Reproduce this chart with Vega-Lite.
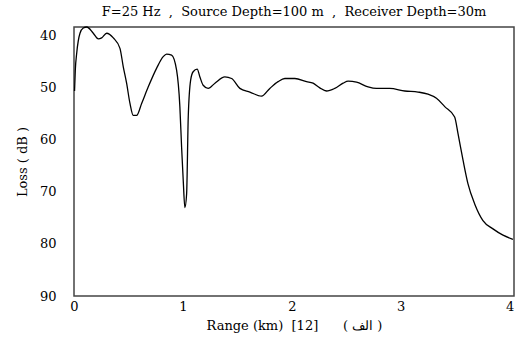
{
  "$schema": "https://vega.github.io/schema/vega-lite/v6.json",
  "width": 440,
  "height": 269,
  "autosize": "none",
  "padding": {"left": 74, "top": 27, "right": 1, "bottom": 50},
  "background": "white",
  "title": {
    "text": "F=25 Hz\u00a0\u00a0,\u00a0\u00a0Source Depth=100 m\u00a0\u00a0,\u00a0\u00a0Receiver Depth=30m",
    "font": "DejaVu Serif",
    "fontSize": 13,
    "fontWeight": "normal",
    "color": "black",
    "anchor": "middle",
    "offset": 5
  },
  "config": {
    "view": {"stroke": "#444", "strokeWidth": 1.5},
    "axis": {
      "domain": false,
      "ticks": false,
      "grid": false,
      "labelFont": "DejaVu Serif",
      "labelFontSize": 13,
      "labelColor": "black",
      "titleFont": "DejaVu Serif",
      "titleFontSize": 13,
      "titleFontWeight": "normal",
      "titleColor": "black"
    }
  },
  "data": {
    "values": [
      {"r": 0.005, "loss": 50.6},
      {"r": 0.012, "loss": 46.6},
      {"r": 0.025, "loss": 43.3},
      {"r": 0.055, "loss": 39.5},
      {"r": 0.085, "loss": 38.5},
      {"r": 0.117, "loss": 38.3},
      {"r": 0.177, "loss": 39.5},
      {"r": 0.223, "loss": 40.6},
      {"r": 0.254, "loss": 40.4},
      {"r": 0.3, "loss": 39.5},
      {"r": 0.361, "loss": 40.4},
      {"r": 0.422, "loss": 42.4},
      {"r": 0.452, "loss": 45.9},
      {"r": 0.483, "loss": 49.1},
      {"r": 0.514, "loss": 53.0},
      {"r": 0.544, "loss": 55.3},
      {"r": 0.575, "loss": 55.3},
      {"r": 0.621, "loss": 53.0},
      {"r": 0.682, "loss": 49.8},
      {"r": 0.759, "loss": 46.2},
      {"r": 0.819, "loss": 44.0},
      {"r": 0.85, "loss": 43.5},
      {"r": 0.896, "loss": 43.7},
      {"r": 0.942, "loss": 46.6},
      {"r": 0.972, "loss": 53.6},
      {"r": 0.988, "loss": 61.4},
      {"r": 1.003, "loss": 67.8},
      {"r": 1.018, "loss": 73.0},
      {"r": 1.034, "loss": 70.4},
      {"r": 1.049, "loss": 55.6},
      {"r": 1.071, "loss": 48.5},
      {"r": 1.094, "loss": 46.9},
      {"r": 1.131, "loss": 46.4},
      {"r": 1.156, "loss": 47.9},
      {"r": 1.186, "loss": 49.5},
      {"r": 1.232, "loss": 50.1},
      {"r": 1.294, "loss": 49.1},
      {"r": 1.385, "loss": 47.9},
      {"r": 1.447, "loss": 48.2},
      {"r": 1.523, "loss": 50.1},
      {"r": 1.615, "loss": 50.8},
      {"r": 1.722, "loss": 51.6},
      {"r": 1.798, "loss": 50.1},
      {"r": 1.874, "loss": 48.8},
      {"r": 1.936, "loss": 48.2},
      {"r": 2.028, "loss": 48.2},
      {"r": 2.135, "loss": 48.8},
      {"r": 2.195, "loss": 49.1},
      {"r": 2.257, "loss": 50.0},
      {"r": 2.318, "loss": 50.6},
      {"r": 2.394, "loss": 50.1},
      {"r": 2.471, "loss": 49.1},
      {"r": 2.517, "loss": 48.7},
      {"r": 2.594, "loss": 48.9},
      {"r": 2.7, "loss": 49.8},
      {"r": 2.777, "loss": 50.1},
      {"r": 2.899, "loss": 50.1},
      {"r": 3.037, "loss": 50.6},
      {"r": 3.159, "loss": 50.8},
      {"r": 3.25, "loss": 51.2},
      {"r": 3.328, "loss": 52.0},
      {"r": 3.404, "loss": 53.6},
      {"r": 3.495, "loss": 55.6},
      {"r": 3.526, "loss": 58.8},
      {"r": 3.572, "loss": 63.9},
      {"r": 3.617, "loss": 68.4},
      {"r": 3.679, "loss": 72.3},
      {"r": 3.755, "loss": 75.5},
      {"r": 3.847, "loss": 77.1},
      {"r": 3.939, "loss": 78.3},
      {"r": 4.03, "loss": 79.1}
    ]
  },
  "mark": {"type": "line", "color": "black", "strokeWidth": 1.3, "interpolate": "monotone"},
  "encoding": {
    "x": {
      "field": "r",
      "type": "quantitative",
      "scale": {"domain": [0, 4.04], "nice": false, "zero": false},
      "axis": {
        "values": [0, 1, 2, 3, 4],
        "title": "Range (km)\u00a0\u00a0[12]\u00a0\u00a0\u00a0\u00a0\u00a0\u00a0( الف )",
        "labelPadding": 4,
        "labelFlush": false,
        "titlePadding": 6
      }
    },
    "y": {
      "field": "loss",
      "type": "quantitative",
      "scale": {"domain": [38.3, 90], "reverse": true, "nice": false, "zero": false},
      "axis": {
        "values": [40, 50, 60, 70, 80, 90],
        "title": "Loss ( dB )",
        "labelPadding": 18,
        "titlePadding": 10
      }
    }
  }
}
